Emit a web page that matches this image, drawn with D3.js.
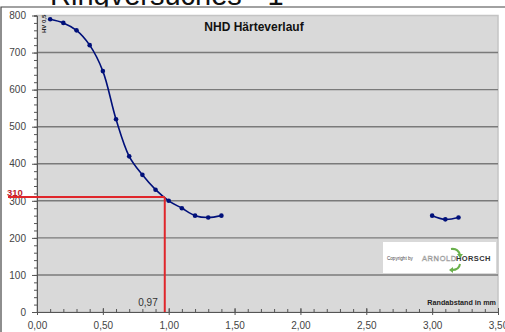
<!DOCTYPE html>
<html>
<head>
<meta charset="utf-8">
<script src="https://cdn.jsdelivr.net/npm/d3@7"></script>
<style>
  html, body { margin: 0; padding: 0; background: #fff; }
  svg { display: block; font-family: "Liberation Sans", Arial, sans-serif; }
</style>
</head>
<body>
<div class="chart-container"></div>
<script>
const totalWidth = 505;
const totalHeight = 332;

// Messwerte: Randabstand in mm und Härte HV 0,5 (zwei Messbereiche)
const randabstand = [0.1, 0.2, 0.3, 0.4, 0.5, 0.6, 0.7, 0.8, 0.9, 1.0, 1.1, 1.2, 1.3, 1.4, 3.0, 3.1, 3.2];
const haerte      = [790, 780, 760, 720, 650, 520, 420, 370, 330, 300, 280, 260, 255, 260, 260, 250, 255];
const abschnitt   = [0, 0, 0, 0, 0, 0, 0, 0, 0, 0, 0, 0, 0, 0, 1, 1, 1];

const yTicks = [0, 100, 200, 300, 400, 500, 600, 700, 800];
const xTicks = [0, 0.5, 1.0, 1.5, 2.0, 2.5, 3.0, 3.5];

const nhdHaerte = 310;
const nhdAbstand = 0.97;

const plot = {left: 37, right: 498, top: 15.5, bottom: 312};

const svg = d3.select('.chart-container')
    .append('svg')
    .attr('width', totalWidth)
    .attr('height', totalHeight);

// abgeschnittene Überschrift oberhalb des Diagramms
svg.append('text')
    .attr('x', 50)
    .attr('y', 5)
    .attr('font-size', 29)
    .attr('fill', '#111')
    .text('Ringversuches - 1');

// Diagrammfläche
svg.append('rect')
    .attr('x', 1).attr('y', 7)
    .attr('width', totalWidth).attr('height', totalHeight)
    .attr('fill', '#fff');
svg.append('path')
    .attr('d', `M1,${totalHeight} V7 H${totalWidth}`)
    .attr('fill', 'none')
    .attr('stroke', '#444')
    .attr('stroke-width', 1.2);

const scaleX = d3.scaleLinear().domain([0, 3.5]).range([plot.left, plot.right]);
const scaleY = d3.scaleLinear().domain([0, 800]).range([plot.bottom, plot.top]);
const fmt = d => d3.format('.2f')(d).replace('.', ',');

svg.append('rect')
    .attr('x', plot.left).attr('y', plot.top)
    .attr('width', plot.right - plot.left).attr('height', plot.bottom - plot.top)
    .attr('fill', '#d9d9d9')
    .attr('stroke', '#c4c4c4')
    .attr('stroke-width', 1.5);

// Gitterlinien
svg.append('g')
    .selectAll('line')
    .data(yTicks.filter(t => t > 0 && t < 800))
    .join('line')
    .attr('x1', plot.left).attr('x2', plot.right)
    .attr('y1', d => scaleY(d)).attr('y2', d => scaleY(d))
    .attr('stroke', '#7a7a7a')
    .attr('stroke-width', 1.4);

// y-Achse
const yAxis = svg.append('g')
    .attr('transform', `translate(${plot.left},0)`)
    .call(d3.axisLeft(scaleY).tickValues(d3.range(0, 801, 20)).tickSize(3).tickFormat(''));
const yMajor = svg.append('g')
    .attr('transform', `translate(${plot.left},0)`)
    .call(d3.axisLeft(scaleY).tickValues(yTicks).tickSizeInner(5).tickSizeOuter(0).tickPadding(6));
[yAxis, yMajor].forEach(g => {
    g.selectAll('.domain').attr('stroke', '#555');
    g.selectAll('line').attr('stroke', '#555');
});
yMajor.selectAll('text').attr('font-size', 10).attr('fill', '#444')
    .attr('font-family', '"Liberation Sans", Arial, sans-serif');

// x-Achse
const xMinor = svg.append('g')
    .attr('transform', `translate(0,${plot.bottom})`)
    .call(d3.axisTop(scaleX).tickValues(d3.range(0, 3.501, 0.1)).tickSize(3).tickFormat(''));
const xMajor = svg.append('g')
    .attr('transform', `translate(0,${plot.bottom})`)
    .call(d3.axisBottom(scaleX).tickValues(xTicks).tickFormat(fmt).tickSizeInner(3).tickSizeOuter(0).tickPadding(7));
xMajor.selectAll('.tick line').attr('y1', -4);
[xMinor, xMajor].forEach(g => {
    g.selectAll('.domain').attr('stroke', '#555');
    g.selectAll('line').attr('stroke', '#555');
});
xMajor.selectAll('text').attr('font-size', 10).attr('fill', '#444')
    .attr('font-family', '"Liberation Sans", Arial, sans-serif');

// Titel im Diagramm
svg.append('text')
    .attr('x', 254).attr('y', 31)
    .attr('text-anchor', 'middle')
    .attr('font-size', 12).attr('font-weight', 'bold')
    .attr('fill', '#111')
    .text('NHD Härteverlauf');

svg.append('text')
    .attr('transform', 'translate(46,33) rotate(-90)')
    .attr('font-size', 6).attr('font-weight', 'bold')
    .attr('fill', '#222')
    .text('HV 0,5');

svg.append('text')
    .attr('x', 496).attr('y', 305)
    .attr('text-anchor', 'end')
    .attr('font-size', 7.2).attr('font-weight', 'bold')
    .attr('fill', '#222')
    .text('Randabstand in mm');

// Logo
const logo = svg.append('g');
logo.append('rect')
    .attr('x', 383).attr('y', 242).attr('width', 113).attr('height', 31)
    .attr('fill', '#fff');
logo.append('text')
    .attr('x', 387).attr('y', 259.5)
    .attr('font-size', 4.6).attr('fill', '#444')
    .text('Copyright by');
logo.append('text')
    .attr('x', 422).attr('y', 260.5)
    .attr('font-size', 7.5).attr('fill', '#fff')
    .attr('stroke', '#9a9a9a').attr('stroke-width', 0.5)
    .attr('letter-spacing', 0.6)
    .text('ARNOLD');
logo.append('text')
    .attr('x', 456).attr('y', 260.5)
    .attr('font-size', 7.5).attr('font-weight', 'bold').attr('fill', '#333')
    .attr('letter-spacing', 0.4)
    .text('HORSCH');
logo.append('path')
    .attr('d', 'M451,249 Q458,248 460,255')
    .attr('fill', 'none').attr('stroke', '#6ab04c').attr('stroke-width', 2);
logo.append('path')
    .attr('d', 'M457,254 L463,254 L460,258 Z').attr('fill', '#6ab04c');
logo.append('path')
    .attr('d', 'M460,264 Q459,270 452,270')
    .attr('fill', 'none').attr('stroke', '#6ab04c').attr('stroke-width', 2);
logo.append('path')
    .attr('d', 'M453,267 L453,273 L449,270 Z').attr('fill', '#6ab04c');

// Härteverlauf
const points = randabstand.map((x, i) => ({x, y: haerte[i], s: abschnitt[i]}));
const line = d3.line()
    .x(d => scaleX(d.x))
    .y(d => scaleY(d.y))
    .curve(d3.curveCatmullRom.alpha(0.5));

svg.append('g')
    .selectAll('path')
    .data(d3.groups(points, d => d.s))
    .join('path')
    .attr('d', d => line(d[1]))
    .attr('fill', 'none')
    .attr('stroke', '#00107a')
    .attr('stroke-width', 1.6);

svg.append('g')
    .selectAll('circle')
    .data(points)
    .join('circle')
    .attr('cx', d => scaleX(d.x))
    .attr('cy', d => scaleY(d.y))
    .attr('r', 2.3)
    .attr('fill', '#00107a');

// NHD-Markierung
svg.append('line')
    .attr('x1', 8).attr('x2', scaleX(nhdAbstand))
    .attr('y1', scaleY(nhdHaerte)).attr('y2', scaleY(nhdHaerte))
    .attr('stroke', '#e0262b').attr('stroke-width', 2);
svg.append('line')
    .attr('x1', scaleX(nhdAbstand)).attr('x2', scaleX(nhdAbstand))
    .attr('y1', scaleY(nhdHaerte)).attr('y2', scaleY(0))
    .attr('stroke', '#e0262b').attr('stroke-width', 2);

svg.append('text')
    .attr('x', 7).attr('y', scaleY(nhdHaerte) - 1.5)
    .attr('font-size', 9.5).attr('font-weight', 'bold')
    .attr('fill', '#c0202a')
    .text(String(nhdHaerte));

svg.append('text')
    .attr('x', scaleX(nhdAbstand) - 7).attr('y', 306)
    .attr('text-anchor', 'end')
    .attr('font-size', 10).attr('fill', '#333')
    .text(fmt(nhdAbstand));
</script>
</body>
</html>
